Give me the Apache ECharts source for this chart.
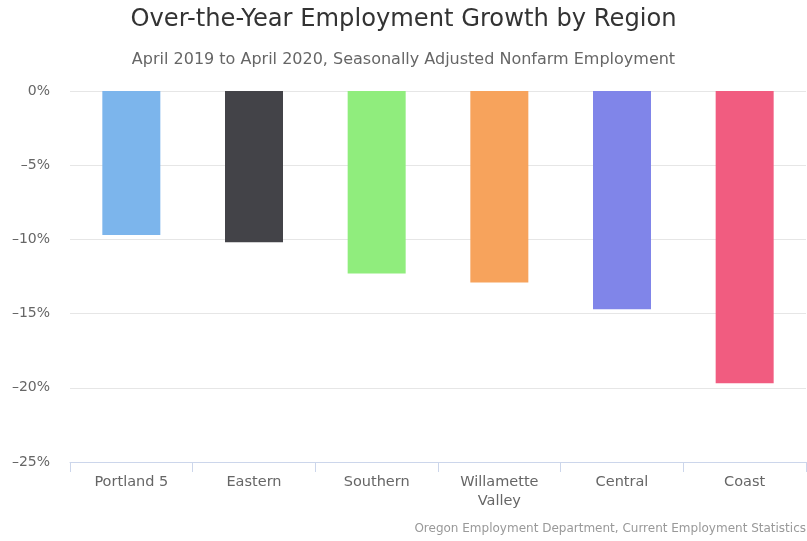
<!DOCTYPE html>
<html><head><meta charset="utf-8">
<script src="https://cdn.jsdelivr.net/npm/echarts@6/dist/echarts.min.js"></script>
<style>html,body{margin:0;padding:0;background:#fff}#c{width:807px;height:541px}</style>
</head><body><div id="c"></div>
<script>
const categories = ['Portland 5', 'Eastern', 'Southern', 'Willamette\nValley', 'Central', 'Coast'];
const values = [-9.7, -10.2, -12.3, -12.9, -14.7, -19.7];
const colors = ['#7cb5ec', '#434348', '#90ed7d', '#f7a35c', '#8085e9', '#f15c80'];
const titleText = 'Over-the-Year Employment Growth by Region';
const subtitleText = 'April 2019 to April 2020, Seasonally Adjusted Nonfarm Employment';
const creditText = 'Oregon Employment Department, Current Employment Statistics';
const FONT = '"DejaVu Sans", "Noto Sans", sans-serif';

const chart = echarts.init(document.getElementById('c'));
chart.setOption({
  animation: false,
  textStyle: { fontFamily: FONT },
  title: [
    { text: titleText, left: 'center', top: 8, padding: 0,
      textStyle: { fontFamily: FONT, fontSize: 24.2, fontWeight: 'normal', color: '#333' } },
    { text: subtitleText, left: 'center', top: 52, padding: 0,
      textStyle: { fontFamily: FONT, fontSize: 16, fontWeight: 'normal', color: '#666' } },
    { text: creditText, right: 1, top: 523, padding: 0,
      textStyle: { fontFamily: FONT, fontSize: 12, fontWeight: 'normal', color: '#999' } }
  ],
  grid: { left: 70, right: 1, top: 91, bottom: 79 },
  xAxis: {
    type: 'category', data: categories,
    axisLine: { onZero: false, lineStyle: { color: '#ccd6eb' } },
    axisTick: { show: true, alignWithLabel: false, length: 10, lineStyle: { color: '#ccd6eb' } },
    axisLabel: { color: '#666', fontSize: 14.5, margin: 11, lineHeight: 19, fontFamily: FONT }
  },
  yAxis: {
    type: 'value', min: -25, max: 0, interval: 5,
    axisLine: { show: false }, axisTick: { show: false },
    axisLabel: { formatter: v => String(v).replace('-', '\u2013') + '%', color: '#666', fontSize: 14, margin: 20, fontFamily: FONT },
    splitLine: { lineStyle: { color: '#e6e6e6' } }
  },
  series: [{
    type: 'bar', barWidth: 58,
    data: values.map((v, i) => ({ value: v, itemStyle: { color: colors[i] } }))
  }]
});
</script></body></html>
